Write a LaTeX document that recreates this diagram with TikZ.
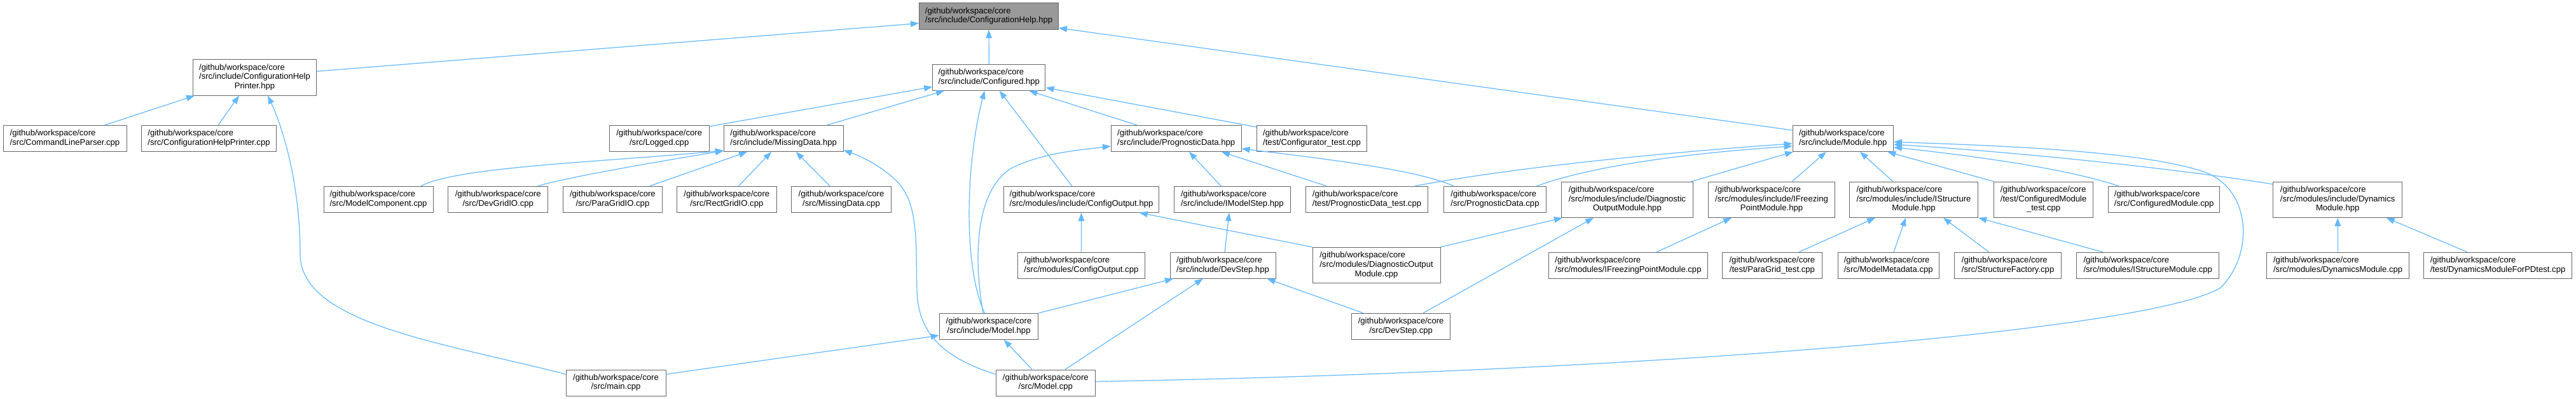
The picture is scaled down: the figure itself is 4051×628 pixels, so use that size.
\documentclass[tikz,border=0pt]{standalone}
\usepackage{fontspec}
\setmainfont{Liberation Sans}
\usetikzlibrary{arrows.meta}
\definecolor{edgec}{HTML}{63B8FF}
\definecolor{boxc}{HTML}{666666}
\definecolor{rootc}{HTML}{999999}
\newcommand\tb[1]{\begin{tabular}{@{}c@{}}#1\end{tabular}}
\newcommand\Lf[1]{\multicolumn{1}{@{}l@{}}{#1}}
\newcommand\gw{\Lf{/github/workspace/core}}
\tikzset{
  box/.style={draw=boxc, line width=1pt, fill=white, inner sep=0pt, minimum height=41pt,
    font=\fontsize{13.1}{14.8}\selectfont},
  box3/.style={box, minimum height=56.3pt},
  edge/.style={draw=edgec, line width=1.2pt, -{Triangle[length=13pt,width=9.5pt]}}
}
\begin{document}
\begin{tikzpicture}[x=1pt,y=-1pt]
\fill[white] (0,0) rectangle (4051,628);
\useasboundingbox (0,0) rectangle (4051,628);
% row 0
\node[box, fill=rootc, minimum width=219pt, minimum height=41.6pt] (root) at (1555,25.5) {\tb{\gw\\/src/include/ConfigurationHelp.hpp}};
% row 1
\node[box3, minimum width=193.8pt] (chph) at (400.5,121.9) {\tb{\gw\\\Lf{/src/include/ConfigurationHelp}\\Printer.hpp}};
\node[box, minimum width=177.3pt, minimum height=41.3pt] (cfg) at (1555.3,121.7) {\tb{\gw\\/src/include/Configured.hpp}};
% row 2
\node[box, minimum width=194pt] (clp) at (102,218) {\tb{\gw\\/src/CommandLineParser.cpp}};
\node[box, minimum width=211.7pt] (chpc) at (328.5,218) {\tb{\gw\\/src/ConfigurationHelpPrinter.cpp}};
\node[box, minimum width=156.7pt] (logged) at (1036.7,218) {\tb{\gw\\/src/Logged.cpp}};
\node[box, minimum width=187.7pt] (mdh) at (1232.2,218) {\tb{\gw\\/src/include/MissingData.hpp}};
\node[box, minimum width=204.7pt] (pdh) at (1849.7,218) {\tb{\gw\\/src/include/PrognosticData.hpp}};
\node[box, minimum width=173pt] (cfgt) at (2063,218) {\tb{\gw\\/test/Configurator\_test.cpp}};
\node[box, minimum width=158.3pt] (mod) at (2898.2,218) {\tb{\gw\\/src/include/Module.hpp}};
% row 3
\node[box, minimum width=172pt] (mc) at (595,313.8) {\tb{\gw\\/src/ModelComponent.cpp}};
\node[box, minimum width=156.9pt] (dgio) at (783.2,313.8) {\tb{\gw\\/src/DevGridIO.cpp}};
\node[box, minimum width=156.7pt] (pgio) at (963.4,313.8) {\tb{\gw\\/src/ParaGridIO.cpp}};
\node[box, minimum width=156.5pt] (rgio) at (1142.8,313.8) {\tb{\gw\\/src/RectGridIO.cpp}};
\node[box, minimum width=156.5pt] (mdc) at (1323,313.8) {\tb{\gw\\/src/MissingData.cpp}};
\node[box, minimum width=244.4pt] (coh) at (1700.5,313.8) {\tb{\gw\\/src/modules/include/ConfigOutput.hpp}};
\node[box, minimum width=182.3pt] (ims) at (1937.9,313.8) {\tb{\gw\\/src/include/IModelStep.hpp}};
\node[box, minimum width=192.6pt] (pdt) at (2149.5,313.8) {\tb{\gw\\/test/PrognosticData\_test.cpp}};
\node[box, minimum width=160.7pt] (pdc) at (2351,313.8) {\tb{\gw\\/src/PrognosticData.cpp}};
\node[box3, minimum width=206.6pt] (domh) at (2558.9,314.2) {\tb{\gw\\\Lf{/src/modules/include/Diagnostic}\\OutputModule.hpp}};
\node[box3, minimum width=199pt] (ifpmh) at (2786,314.2) {\tb{\gw\\\Lf{/src/modules/include/IFreezing}\\PointModule.hpp}};
\node[box3, minimum width=202.3pt] (ismh) at (3009.5,314.2) {\tb{\gw\\\Lf{/src/modules/include/IStructure}\\Module.hpp}};
\node[box3, minimum width=156.3pt] (cmt) at (3213.6,314.2) {\tb{\gw\\\Lf{/test/ConfiguredModule}\\\_test.cpp}};
\node[box, minimum width=174.5pt] (cmc) at (3403.1,314.2) {\tb{\gw\\/src/ConfiguredModule.cpp}};
\node[box3, minimum width=202.5pt] (dmh) at (3676.2,314.2) {\tb{\gw\\\Lf{/src/modules/include/Dynamics}\\Module.hpp}};
% row 4
\node[box, minimum width=199.3pt] (coc) at (1700.4,417.7) {\tb{\gw\\/src/modules/ConfigOutput.cpp}};
\node[box, minimum width=166pt] (dsh) at (1923,417.7) {\tb{\gw\\/src/include/DevStep.hpp}};
\node[box3, minimum width=201pt] (domc) at (2164.5,417.5) {\tb{\gw\\\Lf{/src/modules/DiagnosticOutput}\\Module.cpp}};
\node[box, minimum width=249.4pt] (ifpmc) at (2560.5,417.7) {\tb{\gw\\/src/modules/IFreezingPointModule.cpp}};
\node[box, minimum width=156.2pt] (pgt) at (2786.9,417.7) {\tb{\gw\\/test/ParaGrid\_test.cpp}};
\node[box, minimum width=159.4pt] (mmd) at (2969.7,417.7) {\tb{\gw\\/src/ModelMetadata.cpp}};
\node[box, minimum width=168pt] (sf) at (3157.6,417.7) {\tb{\gw\\/src/StructureFactory.cpp}};
\node[box, minimum width=224pt] (ismc) at (3377.7,417.7) {\tb{\gw\\/src/modules/IStructureModule.cpp}};
\node[box, minimum width=224pt] (dmc) at (3676.6,417.7) {\tb{\gw\\/src/modules/DynamicsModule.cpp}};
\node[box, minimum width=233.1pt] (dmpd) at (3928,417.7) {\tb{\gw\\/test/DynamicsModuleForPDtest.cpp}};
% row 5
\node[box, minimum width=155.4pt] (mh) at (1555,513.8) {\tb{\gw\\/src/include/Model.hpp}};
\node[box, minimum width=155.6pt] (dsc) at (2203.1,513.8) {\tb{\gw\\/src/DevStep.cpp}};
% row 6
\node[box, minimum width=157pt] (main) at (968.5,602.5) {\tb{\gw\\/src/main.cpp}};
\node[box, minimum width=156.6pt] (mcpp) at (1644.3,602.5) {\tb{\gw\\/src/Model.cpp}};

% edges
\draw[edge] (chph.east |- 0,112.3) -- (root.west |- 0,36.7);
\draw[edge] (cfg.north) -- (root.south);
\draw[edge] (mod.west |- 0,205) -- (root.east |- 0,44);
\draw[edge] (164.5,0 |- clp.north) -- (306,0 |- chph.south);
\draw[edge] (343,0 |- chpc.north) -- (376,0 |- chph.south);
\draw[edge] (main.west |- 0,589) .. controls (700,540) and (472,510) .. (472,400) .. controls (472,280) and (440,190) .. (421,0 |- chph.south);
\draw[edge] (logged.east |- 0,199) -- (cfg.west |- 0,136.7);
\draw[edge] (1300,0 |- mdh.north) -- (1485,0 |- cfg.south);
\draw[edge] (1548.3,0 |- mh.north) .. controls (1515,420) and (1518,260) .. (1548.3,0 |- cfg.south);
\draw[edge] (1546,0 |- mh.north) .. controls (1530,400) and (1535,300) .. (1590,265) .. controls (1640,240) and (1700,236) .. (pdh.west |- 0,230);
\draw[edge] (1685.7,0 |- coh.north) -- (1571.7,0 |- cfg.south);
\draw[edge] (1788.3,0 |- pdh.north) -- (1618.3,0 |- cfg.south);
\draw[edge] (cfgt.west |- 0,200) -- (cfg.east |- 0,138);
\draw[edge] (662,0 |- mc.north) .. controls (720,262) and (950,255) .. (mdh.west |- 0,237);
\draw[edge] (846,0 |- dgio.north) .. controls (880,282) and (1000,260) .. (mdh.west |- 0,237.5);
\draw[edge] (1021.7,0 |- pgio.north) -- (1175,0 |- mdh.south);
\draw[edge] (1161.7,0 |- rgio.north) -- (1213,0 |- mdh.south);
\draw[edge] (1305,0 |- mdc.north) -- (1251.7,0 |- mdh.south);
\draw[edge] (mcpp.west |- 0,589) .. controls (1490,565) and (1445,530) .. (1442,460) .. controls (1440,380) and (1445,320) .. (1410,285) .. controls (1390,265) and (1360,248) .. (mdh.east |- 0,236.5);
\draw[edge] (coc.north) -- (coh.south);
\draw[edge] (domc.north west) -- (1791.7,0 |- coh.south);
\draw[edge] (1920,0 |- ims.north) -- (1870,0 |- pdh.south);
\draw[edge] (2086,0 |- pdt.north) -- (1921,0 |- pdh.south);
\draw[edge] (2286,0 |- pdc.north) .. controls (2230,268) and (2100,252) .. (pdh.east |- 0,234);
\draw[edge] (1926,0 |- dsh.north) -- (1933,0 |- ims.south);
\draw[edge] (mh.north east) -- (1845,0 |- dsh.south);
\draw[edge] (1675,0 |- mcpp.north) -- (1891.7,0 |- dsh.south);
\draw[edge] (2144,0 |- dsc.north) -- (1992.6,0 |- dsh.south);
\draw[edge] (1623,0 |- mcpp.north) -- (1578.7,0 |- mh.south);
\draw[edge] (main.east |- 0,589) -- (mh.west |- 0,528);
\draw[edge] (2225,0 |- pdt.north) .. controls (2400,260) and (2650,238) .. (mod.west |- 0,226);
\draw[edge] (2416.7,0 |- pdc.north) .. controls (2520,255) and (2700,238) .. (mod.west |- 0,230);
\draw[edge] (2660,0 |- domh.north) -- (2820,0 |- mod.south);
\draw[edge] (2818.3,0 |- ifpmh.north) -- (2871.7,0 |- mod.south);
\draw[edge] (2976.7,0 |- ismh.north) -- (2925,0 |- mod.south);
\draw[edge] (cmt.north west) -- (2968.3,0 |- mod.south);
\draw[edge] (3333,0 |- cmc.north) .. controls (3250,265) and (3100,245) .. (mod.east |- 0,231.7);
\draw[edge] (dmh.west |- 0,290) .. controls (3400,262) and (3150,238) .. (mod.east |- 0,227.3);
\draw[edge] (mcpp.east |- 0,600.5) .. controls (2600,585) and (3380,520) .. (3492,453) .. controls (3545,400) and (3540,300) .. (3470,272) .. controls (3370,235) and (3100,228) .. (mod.east |- 0,223.3);
\draw[edge] (domc.north east) -- (2457,0 |- domh.south);
\draw[edge] (2238,0 |- dsc.north) -- (2506,0 |- domh.south);
\draw[edge] (2605,0 |- ifpmc.north) -- (2723,0 |- ifpmh.south);
\draw[edge] (2829,0 |- pgt.north) -- (2949,0 |- ismh.south);
\draw[edge] (2978,0 |- mmd.north) -- (2997,0 |- ismh.south);
\draw[edge] (3127.7,0 |- sf.north) -- (3056,0 |- ismh.south);
\draw[edge] (3306.7,0 |- ismc.north) -- (ismh.south east);
\draw[edge] (dmc.north) -- (dmh.south);
\draw[edge] (3879.8,0 |- dmpd.north) -- (3752.8,0 |- dmh.south);
\end{tikzpicture}
\end{document}
